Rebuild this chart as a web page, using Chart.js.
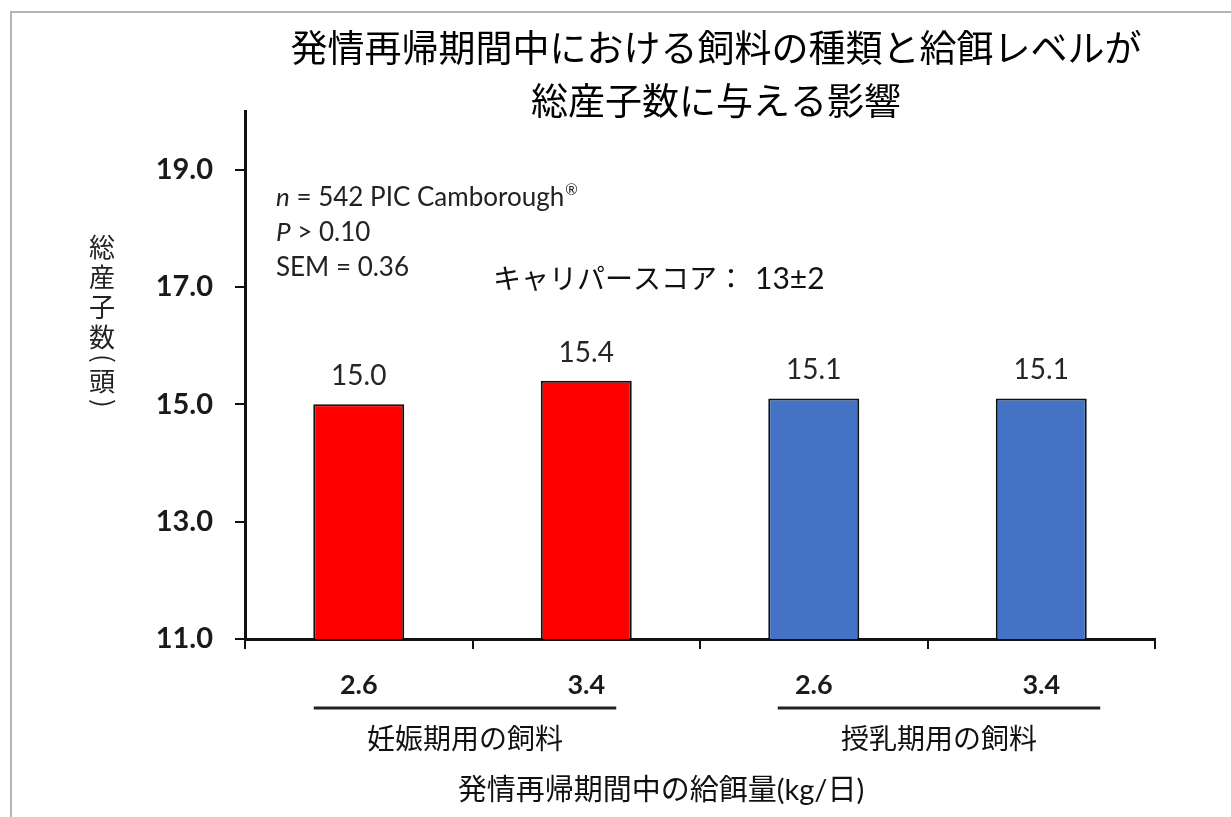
<!DOCTYPE html>
<html><head><meta charset="utf-8">
<script src="https://cdn.jsdelivr.net/npm/chart.js@4.4.1/dist/chart.umd.min.js"></script>
<style>html,body{margin:0;padding:0;background:#fff;overflow:hidden}canvas{display:block}</style>
</head><body>
<canvas id="c" width="1231" height="817"></canvas>
<script>
// ---- data ----
const titleLines = ['発情再帰期間中における飼料の種類と給餌レベルが', '総産子数に与える影響'];
const categories = ['2.6', '3.4', '2.6', '3.4'];
const values = [15.0, 15.4, 15.1, 15.1];
const barColors = ['#FF0000', '#FF0000', '#4472C4', '#4472C4'];
const groupLabels = ['妊娠期用の飼料', '授乳期用の飼料'];
const groupMembers = [[0, 1], [2, 3]];
const yTicks = [11, 13, 15, 17, 19];
const yMin = 11, yMax = 20;
const yTitleChars = ['総', '産', '子', '数', '(', '頭', ')'];
const xTitle = '発情再帰期間中の給餌量(kg/日)';
const noteLines = [
  [['n', 'i'], [' = 542 PIC Camborough', 'r'], ['®', 's']],
  [['P', 'i'], [' > 0.10', 'r']],
  [['SEM = 0.36', 'r']]
];
const caliperLabel = 'キャリパースコア：';
const caliperValue = '13±2';

// ---- styles ----
const FONT_LAT = "Lato, 'Noto Sans CJK JP', sans-serif";
const FONT_JP = "'Noto Sans CJK JP', sans-serif";
const groupLineOffsets = [[-45, 30], [-36, 59]];

const decor = {
  id: 'decor',
  beforeDraw(chart) {
    const c = chart.ctx;
    c.save();
    c.fillStyle = '#fff';
    c.fillRect(0, 0, chart.width, chart.height);
    c.strokeStyle = '#b4b4b4';
    c.lineWidth = 2;
    c.beginPath();
    c.moveTo(11, chart.height);
    c.lineTo(11, 12);
    c.lineTo(chart.width, 12);
    c.stroke();
    c.restore();
  },
  afterDraw(chart) {
    const c = chart.ctx, xs = chart.scales.x;
    c.save();
    c.fillStyle = '#000';
    c.textAlign = 'center';
    c.textBaseline = 'middle';
    // title
    c.font = `37px ${FONT_JP}`;
    c.fillText(titleLines[0], 716, 48);
    c.fillText(titleLines[1], 716, 101);
    // y title (vertical)
    c.font = `26px ${FONT_JP}`;
    c.fillStyle = '#222';
    let cur = 232;
    yTitleChars.forEach(ch => {
      const paren = ch === '(' || ch === ')';
      const h = paren ? 14 : 30;
      c.save();
      c.translate(102, cur + h / 2);
      if (paren) {
        c.textAlign = 'left';
        c.textBaseline = 'alphabetic';
        const m = c.measureText(ch);
        const gx = (m.actualBoundingBoxRight - m.actualBoundingBoxLeft) / 2;
        const gy = (m.actualBoundingBoxDescent - m.actualBoundingBoxAscent) / 2;
        c.rotate(Math.PI / 2);
        c.fillText(ch, -gx, -gy);
      } else {
        c.fillText(ch, 0, 0);
      }
      c.restore();
      cur += h;
    });
    // notes
    c.textAlign = 'left';
    c.textBaseline = 'middle';
    c.fillStyle = '#222';
    noteLines.forEach((segs, i) => {
      let x = 276;
      const y = 198 + i * 35;
      segs.forEach(([t, st]) => {
        if (st === 's') {
          c.font = `15px ${FONT_LAT}`;
          c.fillText(t, x + 1, y - 8);
          x += c.measureText(t).width + 1;
        } else {
          c.font = `${st === 'i' ? 'italic ' : ''}26px ${FONT_LAT}`;
          c.fillText(t, x, y);
          x += c.measureText(t).width;
        }
      });
    });
    // caliper score
    c.fillStyle = '#111';
    c.font = `28px ${FONT_JP}`;
    c.fillText(caliperLabel, 493, 278);
    c.font = `30px ${FONT_LAT}`;
    c.fillText(caliperValue, 755, 279);
    // data labels
    const meta = chart.getDatasetMeta(0);
    c.textAlign = 'center';
    c.textBaseline = 'alphabetic';
    c.font = `28px ${FONT_LAT}`;
    c.fillStyle = '#262626';
    meta.data.forEach((el, i) => {
      c.fillText(values[i].toFixed(1), el.x, el.y - 19);
    });
    // group underline + labels
    c.strokeStyle = '#222';
    c.lineWidth = 3;
    c.textBaseline = 'middle';
    c.fillStyle = '#111';
    c.font = `28px ${FONT_JP}`;
    groupMembers.forEach((m, g) => {
      const x0 = xs.getPixelForValue(m[0]) + groupLineOffsets[g][0];
      const x1 = xs.getPixelForValue(m[m.length - 1]) + groupLineOffsets[g][1];
      c.beginPath();
      c.moveTo(x0, 708);
      c.lineTo(x1, 708);
      c.stroke();
      c.fillText(groupLabels[g], (x0 + x1) / 2, 738);
    });
    // x title
    c.font = `29px ${FONT_LAT}`;
    c.fillText(xTitle, 661, 791);
    c.restore();
  }
};

new Chart(document.getElementById('c'), {
  type: 'bar',
  data: {
    labels: categories,
    datasets: [{
      data: values,
      backgroundColor: barColors,
      borderColor: '#111',
      borderWidth: 2,
      borderSkipped: false,
      barPercentage: 0.4,
      categoryPercentage: 1.0
    }]
  },
  options: {
    responsive: false,
    devicePixelRatio: 1,
    animation: false,
    layout: { padding: { left: 0, top: 111, right: 76, bottom: 0 } },
    plugins: { legend: { display: false }, tooltip: { enabled: false }, title: { display: false } },
    scales: {
      x: {
        grid: { display: true, drawOnChartArea: false, drawTicks: true, tickLength: 10, color: '#111', lineWidth: 2, offset: true },
        border: { display: true, color: '#111', width: 3 },
        ticks: { font: { family: 'Lato', size: 27, weight: 'bold' }, color: '#1a1a1a', padding: 20, maxRotation: 0, autoSkip: false },
        afterFit(s) { s.height = 178; }
      },
      y: {
        min: yMin, max: yMax,
        afterBuildTicks(s) { s.ticks = yTicks.map(v => ({ value: v })); },
        grid: { display: true, drawOnChartArea: false, drawTicks: true, tickLength: 10, color: '#111', lineWidth: 2 },
        border: { display: true, color: '#111', width: 3 },
        ticks: { font: { family: 'Lato', size: 29, weight: 'bold' }, color: '#1a1a1a', padding: 22, callback: v => Number(v).toFixed(1) },
        afterFit(s) { s.width = 245; }
      }
    }
  },
  plugins: [decor]
});
</script>
</body></html>
